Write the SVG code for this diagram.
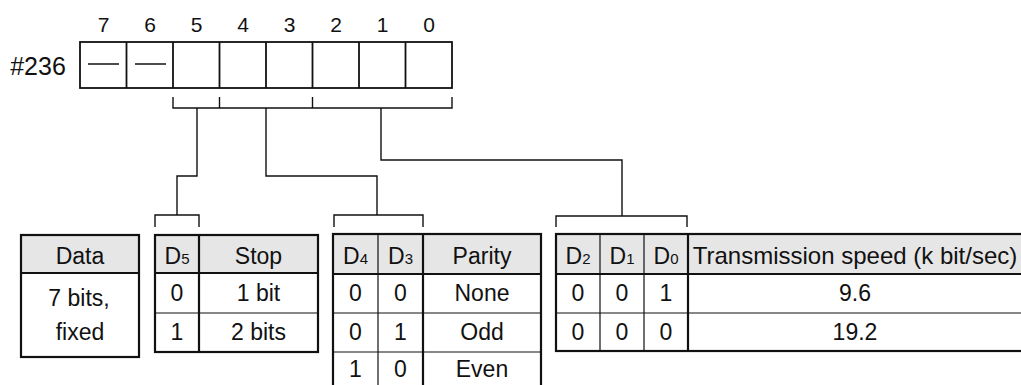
<svg xmlns="http://www.w3.org/2000/svg" width="1021" height="385" viewBox="0 0 1021 385">
<style>
text{font-family:"Liberation Sans",Arial,sans-serif;fill:#111;text-anchor:middle}
.t{font-size:23px}
.n{font-size:21px}
.s{font-size:15px}
.thick{stroke:#111;stroke-width:2.2;fill:none}
.thin{stroke:#111;stroke-width:1.2;fill:none}
.hdr{fill:#e6e6e6;stroke:none}
.ln{stroke:#111;stroke-width:1.4;fill:none}
</style>
<rect width="1021" height="385" fill="#fff"/>
<g id="register">
<text x="38" y="75" style="font-size:25px">#236</text>
<g class="n">
<text x="103.5" y="32">7</text><text x="150" y="32">6</text><text x="196.5" y="32">5</text><text x="243" y="32">4</text>
<text x="289.5" y="32">3</text><text x="336" y="32">2</text><text x="382.5" y="32">1</text><text x="429" y="32">0</text>
</g>
<rect x="80" y="42" width="372" height="46" class="thick" style="stroke-width:1.8"/>
<path d="M126.5 42V88M173 42V88M219.5 42V88M266 42V88M312.5 42V88M359 42V88M405.5 42V88" class="thick" style="stroke-width:1.8"/>
<path d="M88 64H119M135 64H166" class="ln"/>
</g>
<g id="connectors">
<path d="M173 97V108H452V97M219.5 97V108M312.5 97V108" class="ln"/>
<path d="M197 108V176H177V215" class="ln"/>
<path d="M266 108V176H377V215" class="ln"/>
<path d="M381 108V160H622V216" class="ln"/>
<path d="M155 227V215H199V227" class="ln"/>
<path d="M334 227V215H423V227" class="ln"/>
<path d="M556 227V216H687V227" class="ln"/>
</g>
<g id="data-table">
<rect x="21" y="235" width="118" height="38" class="hdr"/>
<rect x="21" y="235" width="118" height="122" class="thick"/>
<path d="M21 273H139" class="thick"/>
<text x="80" y="264" class="t">Data</text>
<text x="79" y="306" class="t">7 bits,</text>
<text x="80" y="340" class="t">fixed</text>
</g>
<g id="stop-table">
<rect x="155" y="235" width="163" height="38" class="hdr"/>
<rect x="155" y="235" width="163" height="117" class="thick"/>
<path d="M155 273H318M199 235V352" class="thick"/>
<path d="M155 313H318" class="thin"/>
<text x="177" y="264" class="t">D<tspan class="s">5</tspan></text>
<text x="258.5" y="264" class="t">Stop</text>
<text x="177" y="301" class="t">0</text><text x="258.5" y="301" class="t">1 bit</text>
<text x="177" y="340" class="t">1</text><text x="258.5" y="340" class="t">2 bits</text>
</g>
<g id="parity-table">
<rect x="333" y="234" width="208" height="40" class="hdr"/>
<rect x="333" y="234" width="208" height="160" class="thick"/>
<path d="M333 274H541M423 234V394" class="thick"/>
<path d="M378 234V394M333 313H541M333 352H541" class="thin"/>
<text x="355.5" y="264" class="t">D<tspan class="s">4</tspan></text>
<text x="400.5" y="264" class="t">D<tspan class="s">3</tspan></text>
<text x="482" y="264" class="t">Parity</text>
<text x="355.5" y="301" class="t">0</text><text x="400.5" y="301" class="t">0</text><text x="482" y="301" class="t">None</text>
<text x="355.5" y="340" class="t">0</text><text x="400.5" y="340" class="t">1</text><text x="482" y="340" class="t">Odd</text>
<text x="355.5" y="377" class="t">1</text><text x="400.5" y="377" class="t">0</text><text x="482" y="377" class="t">Even</text>
</g>
<g id="speed-table">
<rect x="556" y="234" width="470" height="40" class="hdr"/>
<rect x="556" y="234" width="470" height="117" class="thick"/>
<path d="M556 274H1026M688 234V351" class="thick"/>
<path d="M600 234V351M644 234V351M556 313H1026" class="thin"/>
<text x="578" y="264" class="t">D<tspan class="s">2</tspan></text>
<text x="622" y="264" class="t">D<tspan class="s">1</tspan></text>
<text x="666" y="264" class="t">D<tspan class="s">0</tspan></text>
<text x="855" y="264" style="font-size:24px">Transmission speed (k bit/sec)</text>
<text x="578" y="301" class="t">0</text><text x="622" y="301" class="t">0</text><text x="666" y="301" class="t">1</text><text x="855" y="301" class="t">9.6</text>
<text x="578" y="340" class="t">0</text><text x="622" y="340" class="t">0</text><text x="666" y="340" class="t">0</text><text x="855" y="340" class="t">19.2</text>
</g>
</svg>
